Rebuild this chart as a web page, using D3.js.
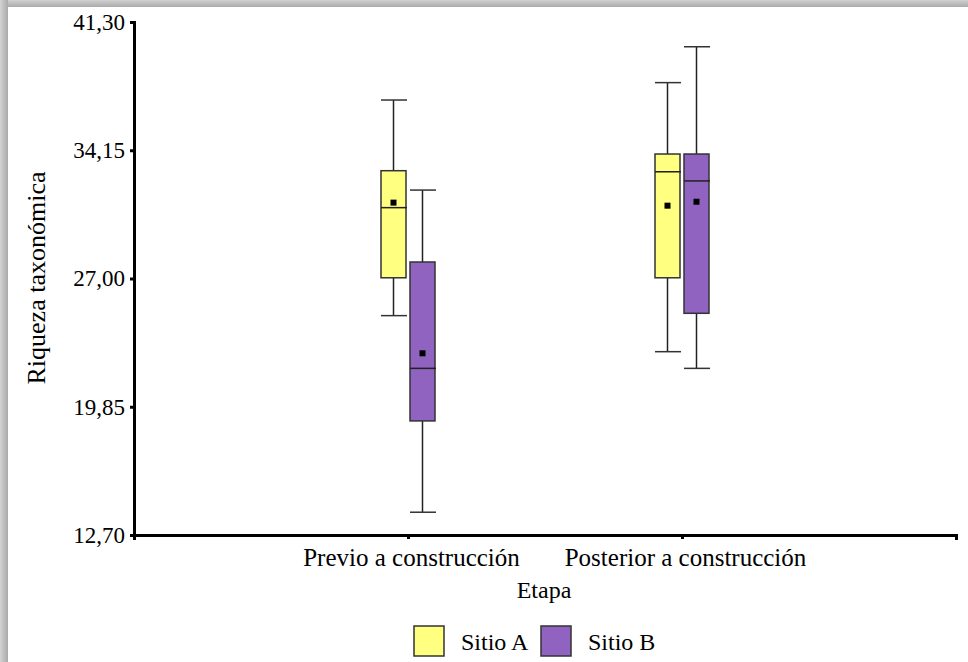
<!DOCTYPE html>
<html>
<head>
<meta charset="utf-8">
<script src="https://cdn.jsdelivr.net/npm/d3@7/dist/d3.min.js"></script>
<style>
  html, body { margin: 0; padding: 0; background: #fff; }
  svg { display: block; }
  text { font-family: "Liberation Serif", "Times New Roman", serif; fill: #000; }
</style>
</head>
<body>
<svg id="chart" width="968" height="662"></svg>
<script>
// Stages on the x axis and the two sampling sites
const stages = ["Previo a construcción", "Posterior a construcción"];
const sites = ["Sitio A", "Sitio B"];
const siteColors = ["#FFFF80", "#8F63BF"];

// Box summaries per stage, one entry per site: whisker low/high, quartiles, median, mean
const whiskerLow  = [[24.93, 13.97], [22.92, 21.99]];
const q1          = [[27.04, 19.06], [27.04, 25.06]];
const median      = [[30.95, 21.99], [32.95, 32.44]];
const q3          = [[33.01, 27.92], [33.94, 33.94]];
const whiskerHigh = [[36.95, 31.93], [37.92, 39.92]];
const mean        = [[31.23, 22.83], [31.06, 31.28]];

const yTicks = [12.70, 19.85, 27.00, 34.15, 41.30];

const svg = d3.select("#chart");
const W = 968, H = 662;

// soft grey edge along the top and left of the page
const defs = svg.append("defs");
const gl = defs.append("linearGradient").attr("id", "edgeL").attr("x1", 0).attr("x2", 1).attr("y1", 0).attr("y2", 0);
gl.append("stop").attr("offset", "0%").attr("stop-color", "#d4d4d4");
gl.append("stop").attr("offset", "100%").attr("stop-color", "#a9a9a9");
const gt = defs.append("linearGradient").attr("id", "edgeT").attr("x1", 0).attr("x2", 0).attr("y1", 0).attr("y2", 1);
gt.append("stop").attr("offset", "0%").attr("stop-color", "#d0d0d0");
gt.append("stop").attr("offset", "100%").attr("stop-color", "#ababab");
svg.append("rect").attr("x", 0).attr("y", 0).attr("width", W).attr("height", 7).attr("fill", "url(#edgeT)");
svg.append("rect").attr("x", 0).attr("y", 0).attr("width", 8).attr("height", H).attr("fill", "url(#edgeL)");

const x = d3.scalePoint().domain(stages).range([134, 956]).padding(1);
const y = d3.scaleLinear().domain([12.70, 41.30]).range([535, 22]);

const locale = d3.formatLocale({ decimal: ",", thousands: ".", grouping: [3], currency: ["", ""] });
const fmt = locale.format(".2f");

// y axis
const yAxis = svg.append("g").attr("transform", "translate(134,0)")
  .call(d3.axisLeft(y).tickValues(yTicks).tickFormat(fmt).tickSize(4).tickSizeOuter(4).tickPadding(5));
yAxis.selectAll("path, line").attr("stroke", "#000").attr("stroke-width", 3);
yAxis.selectAll("text").style("font-size", "23px").attr("font-family", "Liberation Serif");

// x axis
const xAxis = svg.append("g").attr("transform", "translate(0,535)")
  .call(d3.axisBottom(x).tickSize(4).tickSizeOuter(5).tickPadding(9));
xAxis.selectAll("path, line").attr("stroke", "#000").attr("stroke-width", 3);
xAxis.selectAll("text").style("font-size", "25px").attr("font-family", "Liberation Serif")
  .attr("dx", 3);

// boxes
const boxW = 25;
const offsets = [-27, 2];
stages.forEach((st, i) => {
  sites.forEach((site, j) => {
    const x0 = x(st) + offsets[j];
    const xc = x0 + boxW / 2;
    const g = svg.append("g");
    // whisker stems
    g.append("line").attr("x1", xc).attr("x2", xc)
      .attr("y1", y(whiskerHigh[i][j])).attr("y2", y(q3[i][j]))
      .attr("stroke", "#222").attr("stroke-width", 1.5);
    g.append("line").attr("x1", xc).attr("x2", xc)
      .attr("y1", y(q1[i][j])).attr("y2", y(whiskerLow[i][j]))
      .attr("stroke", "#222").attr("stroke-width", 1.5);
    // whisker caps
    [whiskerHigh[i][j], whiskerLow[i][j]].forEach(v => {
      g.append("line").attr("x1", x0).attr("x2", x0 + boxW + 1)
        .attr("y1", y(v)).attr("y2", y(v))
        .attr("stroke", "#333").attr("stroke-width", 1.5);
    });
    // box
    g.append("rect").attr("x", x0).attr("y", y(q3[i][j]))
      .attr("width", boxW).attr("height", y(q1[i][j]) - y(q3[i][j]))
      .attr("fill", siteColors[j]).attr("stroke", "#333").attr("stroke-width", 1.5);
    // median
    g.append("line").attr("x1", x0).attr("x2", x0 + boxW + 1)
      .attr("y1", y(median[i][j])).attr("y2", y(median[i][j]))
      .attr("stroke", "#222").attr("stroke-width", 1.5);
    // mean
    g.append("rect").attr("x", xc - 3).attr("y", y(mean[i][j]) - 3)
      .attr("width", 6).attr("height", 6).attr("fill", "#000");
  });
});

// axis titles
svg.append("text").attr("x", 544).attr("y", 598).attr("text-anchor", "middle")
  .style("font-size", "24px").text("Etapa");
svg.append("text").attr("transform", "translate(45,278) rotate(-90)").attr("text-anchor", "middle")
  .style("font-size", "26px").text("Riqueza taxonómica");

// legend
const legendX = [414, 541];
sites.forEach((s, j) => {
  svg.append("rect").attr("x", legendX[j]).attr("y", 626).attr("width", 30).attr("height", 30)
    .attr("fill", siteColors[j]).attr("stroke", "#333").attr("stroke-width", 1.5);
  svg.append("text").attr("x", legendX[j] + 47).attr("y", 650)
    .style("font-size", "24px").text(s);
});
</script>
</body>
</html>
